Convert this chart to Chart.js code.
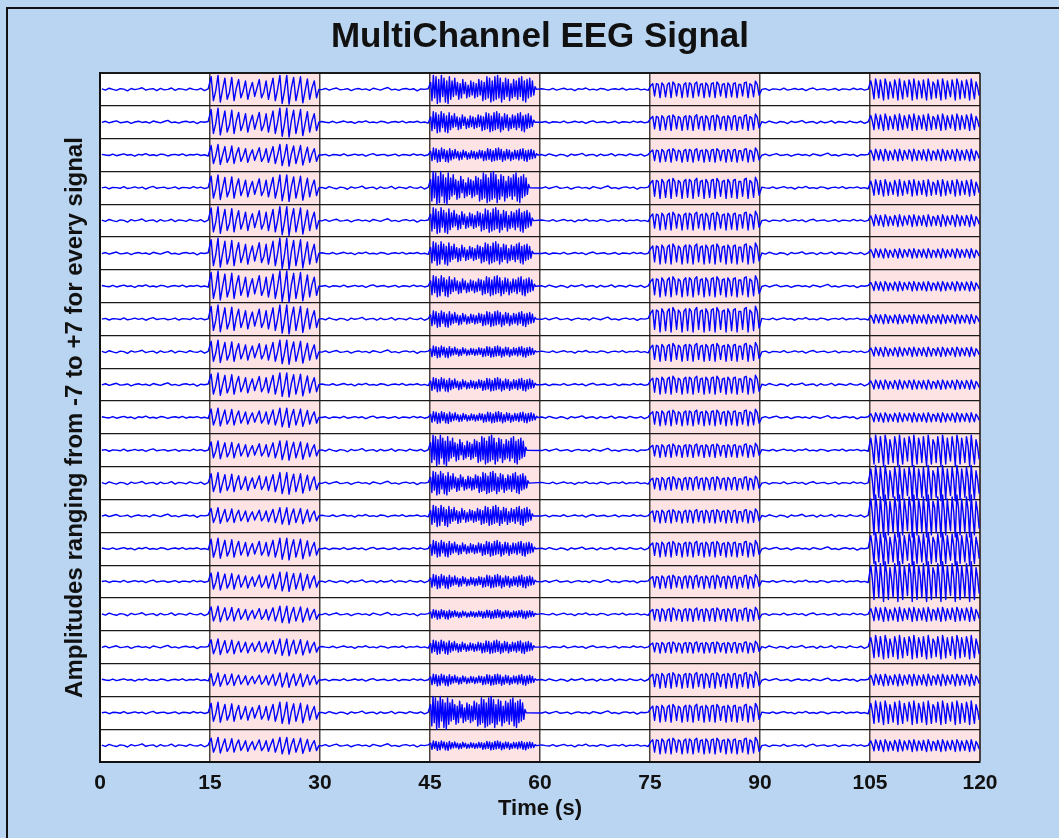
<!DOCTYPE html>
<html>
<head>
<meta charset="utf-8">
<title>MultiChannel EEG Signal</title>
<script src="https://cdn.jsdelivr.net/npm/chart.js@4.4.1/dist/chart.umd.min.js"></script>
<style>
  html, body { margin: 0; padding: 0; background: #b9d5f1; overflow: hidden; }
  #frame {
    position: absolute; left: 6px; top: 7px; width: 1200px; height: 1000px;
    border-left: 2px solid #111; border-top: 2px solid #111;
  }
  #eeg { position: absolute; left: 0; top: 0; }
</style>
</head>
<body>
<div id="frame"></div>
<canvas id="eeg" width="1059" height="838"></canvas>
<script>
// Time windows: background activity and the four marked bursts
const quietWindows = [[0, 15], [30, 45], [60, 75], [90, 105]];
const burstWindows = [[15, 30], [45, 60], [75, 90], [105, 120]];
const xTicks = [0, 15, 30, 45, 60, 75, 90, 105, 120];
const channelRange = 14; // every trace lives in -7..+7

// Background activity (amplitude units)
const quiet1 = [0.2,-0.3,0.5,0,-0.4,0.3,0.1,-0.6,0.4,-0.1,0.2,0.7,-0.3,0.1,0.3,-0.5,0.4,-0.2,0,0.6,-0.4,0.3,0.1,-0.3,0.5,0,-0.2,0.4,-0.5,0.2];
const quiet2 = [-0.1,0.4,-0.3,0.2,0.6,-0.2,0,0.3,-0.5,0.1,0.4,-0.1,0.2,-0.4,0.5,0.1,-0.3,0.3,0.8,-0.2,0.1,-0.4,0.2,0.4,-0.1,0.3,-0.6,0.2,0,0.3];
const quiet3 = [0.3,0,-0.2,0.4,-0.3,0.1,0.5,-0.1,0.2,-0.5,0.3,0,0.6,-0.2,0.1,-0.3,0.4,0.2,-0.4,0.1,0.3,-0.1,0.5,-0.3,0.2,0,0.4,-0.2,0.1,-0.4];
const quiet4 = [0,0.3,-0.4,0.2,0.1,-0.2,0.5,-0.3,0,0.4,-0.1,0.3,-0.5,0.2,0.6,-0.2,0.1,0.3,-0.3,0,0.4,-0.4,0.2,0.1,-0.2,0.5,-0.1,0.3,-0.3,0.1];
const quietTraces = [quiet1, quiet2, quiet3, quiet4];

// Burst waveforms, normalised (peak about 1), shared by all channels
const burst15 = [
  0.9,-0.8,-0.1, 1.0,-0.9,0.0, 0.8,-0.7,-0.2, 0.85,-0.8,0.1,
  0.7,-0.6,-0.1, 0.6,-0.7,0.0, 0.5,-0.5,0.1, 0.7,-0.6,-0.2,
  0.6,-0.7,0.1, 0.8,-0.8,0.0, 1.0,-1.0,-0.1, 1.0,-1.05,0.1,
  0.85,-0.8,0.0, 0.9,-0.95,-0.1, 0.75,-0.7,0.1, 0.6,-0.6,0.0
];
const burst45 = [
  0.5,-0.8,1.0,-0.6,0.9,-1.0,0.7,-0.9,1.0,-0.5,0.8,-0.9,0.6,-1.0,0.9,-0.7,
  0.6,-0.5,0.8,-0.4,0.5,-0.7,0.4,-0.6,0.7,-0.3,0.5,-0.6,0.3,-0.5,0.6,-0.4,
  0.5,-0.6,0.4,-0.5,0.7,-0.4,0.6,-0.8,0.5,-0.7,0.9,-0.6,0.8,-0.9,0.6,-0.8,
  0.9,-0.7,1.0,-0.6,0.8,-0.9,0.5,-0.7,0.8,-0.5,0.7,-0.8,0.4,-0.6,0.7,-0.5,
  0.6,-0.7,0.8,-0.5,0.9,-0.8,0.6,-0.9,0.7,-0.6,0.8,-0.5,0.6,-0.4,0.2,0.0
];
const burst75 = [
  0.5,0.7,-0.8, 0.7,0.6,-1.0, 0.8,0.5,-0.9, 0.6,0.8,-1.0, 0.9,0.6,-0.8,
  0.7,0.5,-1.0, 0.6,0.8,-0.9, 0.8,0.6,-1.0, 0.7,0.9,-0.8, 0.6,0.7,-1.0,
  0.8,0.5,-0.9, 0.7,0.8,-1.0, 0.9,0.6,-0.8, 0.6,0.7,-1.0, 0.8,0.5,-0.9,
  0.7,0.8,-1.0, 0.6,0.6,-0.8, 0.8,0.9,-1.0, 0.7,0.5,-0.9, 1.0,0.6,-0.7
];
const burst105 = [
  0.8,0.1,-0.9, 1.0,0.3,-0.8, 0.9,0.0,-1.0, 1.0,0.4,-0.9, 0.7,0.1,-0.8,
  0.9,0.3,-1.0, 1.0,0.0,-0.9, 0.8,0.2,-0.7, 0.9,0.4,-1.0, 1.0,0.1,-0.9,
  0.8,0.3,-0.8, 0.9,0.0,-1.0, 1.0,0.2,-0.9, 0.7,0.4,-0.8, 0.9,0.1,-1.0,
  1.0,0.3,-0.9, 0.8,0.0,-0.7, 0.9,0.2,-1.0, 1.0,0.4,-0.9, 0.8,0.1,-0.8,
  0.9,0.3,-1.0, 1.0,0.0,-0.9, 0.7,0.2,-0.6
];
const burstTraces = [burst15, burst45, burst75, burst105];

// Peak amplitude of each channel (1..21, top to bottom) inside each burst
const gain15  = [6,6,4.5,5.5,6,6.5,6.5,6,5,5,4,4,4.5,3.5,4.5,4,3.5,3.5,3,4.5,3.5];
const gain45  = [6,4.5,3,7,5.5,5,4.5,3.5,2.5,3,2.5,6.5,5,4.5,3.5,3,2,3,2.5,7,2];
const gain75  = [3.5,3.5,3,4.5,4,4.5,4.5,5.5,4,4,3.5,3,3,3,3.5,3,3,2.5,3.5,4,3.5];
const gain105 = [4.5,3.5,2.5,3.5,2.5,2,2,2,2,2,2,6.5,7.5,9,7,8.5,3,5,2.5,5,2.5];
// Time (s) at which the 45-60 s burst dies out on each channel
const end45   = [59.6,59.4,59.8,58.7,59.2,59.2,59.5,59.6,59.6,59.6,59.8,58.3,58.6,59.2,59.5,59.6,59.6,59.4,59.6,58.2,59.6];

const nChannels = gain15.length;
const fontFamily = 'Arial, "Liberation Sans", Helvetica, sans-serif';

// Spread a window's samples evenly over its time span, offset to the channel row
function windowPoints(win, values, gain, center) {
    const [t0, t1] = win;
    const step = (t1 - t0) / values.length;
    return values.map((v, k) => ({ x: t0 + (k + 0.5) * step, y: center + v * gain }));
}

// Build one full 0..120 s trace
function channelPoints(i) {
    const center = (nChannels - i) * channelRange - channelRange / 2;
    const gains = [gain15[i], gain45[i], gain75[i], gain105[i]];
    let pts = [];
    for (let k = 0; k < 4; k++) {
        const win = k === 1 ? [burstWindows[k][0], end45[i]] : burstWindows[k];
        pts = pts.concat(windowPoints(quietWindows[k], quietTraces[(i + k) % 4], 1, center));
        pts = pts.concat(windowPoints(win, burstTraces[k], gains[k], center));
    }
    return pts;
}

// White plot area with the pink burst windows behind the grid
const plotBackground = {
    id: 'plotBackground',
    beforeDraw(chart) {
        const { ctx, chartArea: a, scales: { x } } = chart;
        ctx.save();
        ctx.fillStyle = '#ffffff';
        ctx.fillRect(a.left, a.top, a.right - a.left, a.bottom - a.top);
        ctx.fillStyle = '#fde3e3';
        burstWindows.forEach(([t0, t1]) => {
            const x0 = x.getPixelForValue(t0);
            const x1 = x.getPixelForValue(t1);
            ctx.fillRect(x0, a.top, x1 - x0, a.bottom - a.top);
        });
        ctx.restore();
    }
};

const datasets = [];
for (let i = 0; i < nChannels; i++) {
    datasets.push({
        label: 'Ch ' + (i + 1),
        data: channelPoints(i),
        borderColor: '#0000ff',
        borderWidth: 1.4,
        borderJoinStyle: 'round',
        pointRadius: 0,
        tension: 0,
        fill: false
    });
}

Chart.defaults.font.family = fontFamily;

new Chart(document.getElementById('eeg'), {
    type: 'line',
    data: { datasets: datasets },
    plugins: [plotBackground],
    options: {
        responsive: false,
        animation: false,
        events: [],
        parsing: false,
        layout: { padding: { left: 58, right: 79, top: 2, bottom: 0 } },
        plugins: {
            legend: { display: false },
            tooltip: { enabled: false },
            title: {
                display: true,
                fullSize: false,
                text: 'MultiChannel EEG Signal',
                color: '#111',
                font: { size: 35, weight: 'bold' },
                padding: { top: 14, bottom: 15 }
            }
        },
        scales: {
            x: {
                type: 'linear',
                min: 0,
                max: 120,
                afterBuildTicks: s => { s.ticks = xTicks.map(v => ({ value: v })); },
                afterFit: s => { s.height = 76; },
                grid: {
                    color: '#4a4040',
                    lineWidth: c => (c.tick && c.tick.value === 120) ? 2 : 1.5,
                    drawTicks: false
                },
                border: { color: '#111', width: 2 },
                ticks: {
                    color: '#111',
                    font: { size: 21, weight: 'bold' },
                    padding: 9,
                    autoSkip: false,
                    maxRotation: 0
                },
                title: {
                    display: true,
                    text: 'Time (s)',
                    color: '#111',
                    font: { size: 22, weight: 'bold' },
                    padding: { top: 0, bottom: 16 }
                }
            },
            y: {
                min: 0,
                max: nChannels * channelRange,
                afterFit: s => { s.width = 42; },
                ticks: { display: false, stepSize: channelRange },
                grid: {
                    color: '#1a1a1a',
                    lineWidth: c => (c.tick && c.tick.value === nChannels * channelRange) ? 2 : 1.2,
                    drawTicks: false
                },
                border: { color: '#111', width: 2 },
                title: {
                    display: true,
                    text: 'Amplitudes ranging from -7 to +7 for every signal',
                    color: '#111',
                    font: { size: 24, weight: 'bold' },
                    padding: { top: 3, bottom: 0 }
                }
            }
        }
    }
});
</script>
</body>
</html>
